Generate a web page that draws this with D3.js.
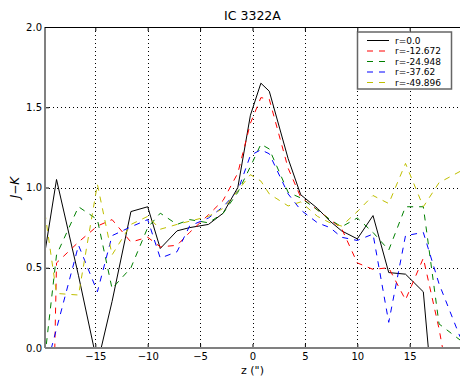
<!DOCTYPE html>
<html>
<head>
<meta charset="utf-8">
<script src="https://cdn.jsdelivr.net/npm/d3@7"></script>
<style>
  html, body { margin: 0; padding: 0; background: #fff; }
  svg { display: block; }
  text { font-family: "DejaVu Sans", sans-serif; fill: #000; }
</style>
</head>
<body>
<svg id="chart" width="460" height="381"></svg>
<script>
// Sampled positions along the major axis (arcsec)
const zPos = [-19.8, -18.7, -16.6, -14.8, -13.4, -11.6, -10.0, -8.8, -7.2, -6.0,
              -4.2, -2.8, -1.4, -0.2, 0.8, 1.6, 3.4, 4.6, 6.2, 7.4,
              8.5, 10.0, 11.5, 13.0, 14.6, 16.3, 17.8, 19.8];

// J-K colour profiles at each offset r
const jkR0     = [0.60, 1.05, 0.45, -0.10, 0.29, 0.85, 0.88, 0.62, 0.73, 0.75,
                  0.77, 0.84, 1.00, 1.45, 1.65, 1.60, 1.18, 0.955, 0.87, 0.79,
                  0.73, 0.68, 0.825, 0.47, 0.46, 0.35, -0.75, -1.00];
const jkR12672 = [-3.00, 0.53, 0.66, 0.76, 0.80, 0.66, 0.69, 0.63, 0.64, 0.72,
                  0.83, 0.92, 1.09, 1.40, 1.56, 1.55, 1.12, 0.94, 0.86, 0.80,
                  0.745, 0.53, 0.49, 0.50, 0.30, 0.56, 0.12, -0.60];
const jkR24948 = [-0.05, 0.58, 0.88, 0.80, 0.37, 0.50, 0.75, 0.84, 0.77, 0.80,
                  0.78, 0.84, 0.97, 1.13, 1.27, 1.24, 0.97, 0.935, 0.86, 0.80,
                  0.755, 0.81, 0.72, 0.61, 0.88, 0.88, 0.15, 0.05];
const jkR3762  = [-0.15, 0.12, 0.64, 0.35, 0.70, 0.755, 0.80, 0.56, 0.60, 0.76,
                  0.81, 0.88, 0.98, 1.20, 1.235, 1.21, 0.96, 0.86, 0.78, 0.75,
                  0.69, 0.67, 0.71, 0.16, 0.70, 0.72, 0.40, 0.07];
const jkR49896 = [0.84, 0.34, 0.33, 1.02, 0.58, 0.77, 0.82, 0.74, 0.77, 0.79,
                  0.82, 0.87, 0.98, 1.08, 1.04, 0.96, 0.885, 0.91, 0.82, 0.78,
                  0.76, 0.85, 0.95, 0.90, 1.15, 0.88, 1.03, 1.10];

const seriesLabels = ["r=0.0", "r=-12.672", "r=-24.948", "r=-37.62", "r=-49.896"];
const seriesColors = ["#000000", "#ff0000", "#008000", "#0000ff", "#bfbf00"];
const seriesValues = [jkR0, jkR12672, jkR24948, jkR3762, jkR49896];

const xTicks = [-15, -10, -5, 0, 5, 10, 15];
const yTicks = [0.0, 0.5, 1.0, 1.5, 2.0];

const titleText = "IC 3322A";
const xLabel = 'z (")';

// Plot frame
const plotLeft = 45, plotRight = 460, plotTop = 27, plotBottom = 348;

const svg = d3.select("#chart");
const x = d3.scaleLinear().domain([-19.8, 19.8]).range([plotLeft, plotRight]);
const y = d3.scaleLinear().domain([0, 2]).range([plotBottom, plotTop]);

svg.append("defs").append("clipPath").attr("id", "plotclip")
  .append("rect").attr("x", plotLeft).attr("y", plotTop)
  .attr("width", plotRight - plotLeft).attr("height", plotBottom - plotTop);

// Dotted grid
const grid = svg.append("g");
grid.selectAll("line.vx").data(xTicks).join("line")
  .attr("x1", d => Math.round(x(d)) + 0.5).attr("x2", d => Math.round(x(d)) + 0.5)
  .attr("y1", plotTop).attr("y2", plotBottom)
  .attr("stroke", "#000").attr("stroke-width", 1).attr("stroke-dasharray", "1,3");
grid.selectAll("line.hy").data(yTicks.filter(d => d > 0 && d < 2)).join("line")
  .attr("y1", d => Math.round(y(d)) + 0.5).attr("y2", d => Math.round(y(d)) + 0.5)
  .attr("x1", plotLeft).attr("x2", plotRight)
  .attr("stroke", "#000").attr("stroke-width", 1).attr("stroke-dasharray", "1,3");

// Profiles
const line = d3.line().x((d, i) => x(zPos[i])).y(d => y(d));
const plot = svg.append("g").attr("clip-path", "url(#plotclip)");
seriesValues.forEach((vals, k) => {
  plot.append("path").datum(vals)
    .attr("d", line)
    .attr("fill", "none")
    .attr("stroke", seriesColors[k])
    .attr("stroke-width", 1)
    .attr("stroke-dasharray", k === 0 ? null : "6,6");
});

// Axes (inward ticks, unicode minus on tick labels)
const fmtX = d => (d < 0 ? "\u2212" + Math.abs(d) : String(d));
const xAxis = d3.axisBottom(x).tickValues(xTicks).tickFormat(fmtX)
  .tickSizeInner(-4).tickSizeOuter(0).tickPadding(5);
const gx = svg.append("g").attr("transform", `translate(0,${plotBottom})`).call(xAxis);
gx.select(".domain").remove();
gx.selectAll("text").attr("font-size", 10).attr("font-family", "DejaVu Sans");

const topAxis = d3.axisTop(x).tickValues(xTicks).tickFormat("")
  .tickSizeInner(-4).tickSizeOuter(0);
const gt = svg.append("g").attr("transform", `translate(0,${plotTop})`).call(topAxis);
gt.select(".domain").remove();

const yAxis = d3.axisLeft(y).tickValues(yTicks).tickFormat(d3.format(".1f"))
  .tickSizeInner(-4).tickSizeOuter(0).tickPadding(3);
const gy = svg.append("g").attr("transform", `translate(${plotLeft},0)`).call(yAxis);
gy.select(".domain").remove();
gy.selectAll("text").attr("font-size", 10).attr("font-family", "DejaVu Sans");

// Spines
svg.append("line").attr("x1", plotLeft).attr("x2", plotLeft).attr("y1", plotTop).attr("y2", plotBottom)
  .attr("stroke", "#808080").attr("stroke-width", 2);
svg.append("line").attr("x1", plotLeft).attr("x2", plotRight).attr("y1", plotBottom).attr("y2", plotBottom)
  .attr("stroke", "#808080").attr("stroke-width", 2);
svg.append("line").attr("x1", plotLeft).attr("x2", plotRight).attr("y1", plotTop + 0.5).attr("y2", plotTop + 0.5)
  .attr("stroke", "#000").attr("stroke-width", 1);

// Title and axis labels
svg.append("text").attr("x", (plotLeft + plotRight) / 2).attr("y", 20)
  .attr("text-anchor", "middle").attr("font-size", 12.5).text(titleText);
svg.append("text").attr("x", (plotLeft + plotRight) / 2).attr("y", 374)
  .attr("text-anchor", "middle").attr("font-size", 11).text(xLabel);
const yl = svg.append("text")
  .attr("transform", `translate(19,${(plotTop + plotBottom) / 2}) rotate(-90)`)
  .attr("text-anchor", "middle").attr("font-size", 12)
  .attr("font-family", "DejaVu Serif");
yl.append("tspan").attr("font-style", "italic").text("J");
yl.append("tspan").text("\u2212");
yl.append("tspan").attr("font-style", "italic").text("K");

// Legend
const lg = svg.append("g");
lg.append("rect").attr("x", 357.5).attr("y", 32).attr("width", 94).attr("height", 57)
  .attr("fill", "#fff").attr("stroke", "#666").attr("stroke-width", 1.5);
const rowY = [40.5, 51, 61.5, 72, 82.5];
seriesLabels.forEach((lab, k) => {
  lg.append("line").attr("x1", 367).attr("x2", 389)
    .attr("y1", rowY[k]).attr("y2", rowY[k])
    .attr("stroke", seriesColors[k]).attr("stroke-width", 1)
    .attr("stroke-dasharray", k === 0 ? null : "6,6");
  lg.append("text").attr("x", 395).attr("y", rowY[k] + 3.3)
    .attr("font-size", 9).text(lab);
});
</script>
</body>
</html>
